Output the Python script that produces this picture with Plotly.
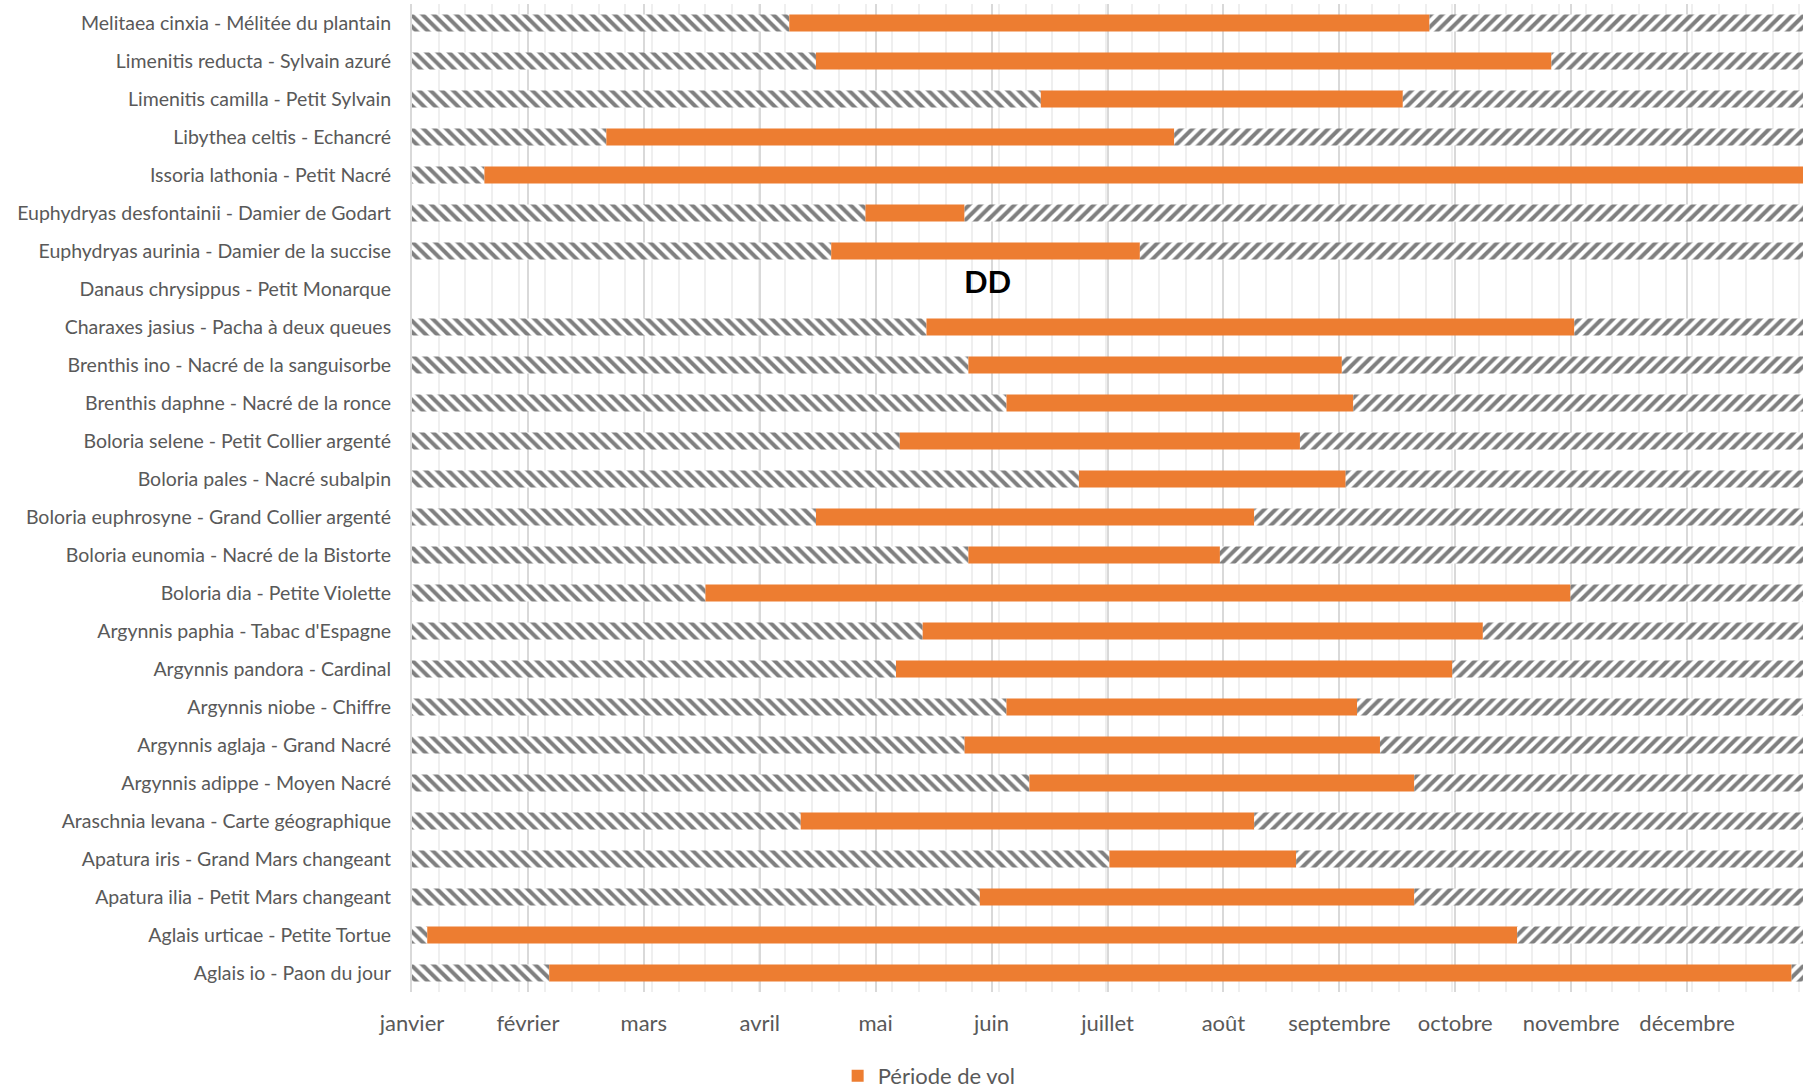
import plotly.graph_objects as go

# Species, listed bottom-to-top (alphabetical order)
species = [
    "Aglais io - Paon du jour",
    "Aglais urticae - Petite Tortue",
    "Apatura ilia - Petit Mars changeant",
    "Apatura iris - Grand Mars changeant",
    "Araschnia levana - Carte géographique",
    "Argynnis adippe - Moyen Nacré",
    "Argynnis aglaja - Grand Nacré",
    "Argynnis niobe - Chiffre",
    "Argynnis pandora - Cardinal",
    "Argynnis paphia - Tabac d'Espagne",
    "Boloria dia - Petite Violette",
    "Boloria eunomia - Nacré de la Bistorte",
    "Boloria euphrosyne - Grand Collier argenté",
    "Boloria pales - Nacré subalpin",
    "Boloria selene - Petit Collier argenté",
    "Brenthis daphne - Nacré de la ronce",
    "Brenthis ino - Nacré de la sanguisorbe",
    "Charaxes jasius - Pacha à deux queues",
    "Danaus chrysippus - Petit Monarque",
    "Euphydryas aurinia - Damier de la succise",
    "Euphydryas desfontainii - Damier de Godart",
    "Issoria lathonia - Petit Nacré",
    "Libythea celtis - Echancré",
    "Limenitis camilla - Petit Sylvain",
    "Limenitis reducta - Sylvain azuré",
    "Melitaea cinxia - Mélitée du plantain",
]

# Flight period, in days since 1 January (None = no data)
debut_vol = [36, 4, 149, 183, 102, 162, 145, 156, 127, 134, 77, 146, 106, 175,
             128, 156, 146, 135, None, 110, 119, 19, 51, 165, 106, 99]
fin_vol = [362, 290, 263, 232, 221, 263, 254, 248, 273, 281, 304, 212, 221, 245,
           233, 247, 244, 305, None, 191, 145, 365, 200, 260, 299, 267]

annee = 365
mois = ["janvier", "février", "mars", "avril", "mai", "juin", "juillet",
        "août", "septembre", "octobre", "novembre", "décembre"]
position_mois = [i * annee / 12 for i in range(12)]

espece_dd = "Danaus chrysippus - Petit Monarque"

avant = [d if d is not None else None for d in debut_vol]
duree = [(f - d) if d is not None else None for d, f in zip(debut_vol, fin_vol)]
apres = [(annee - f) if f is not None else None for f in fin_vol]

orange = "#ED7D31"
gris_texte = "#595959"
hachure = "#000000"
largeur = 0.45

fig = go.Figure()

fig.add_trace(go.Bar(
    y=species, x=avant, base=[0] * len(species), orientation="h",
    width=largeur, showlegend=False, hoverinfo="skip",
    marker=dict(color="white", line=dict(width=0),
                pattern=dict(shape="\\", fgcolor=hachure, bgcolor="white",
                             size=8, solidity=0.5)),
))
fig.add_trace(go.Bar(
    y=species, x=duree, base=debut_vol, orientation="h",
    width=largeur, name="Période de vol",
    marker=dict(color=orange, line=dict(width=0)),
))
fig.add_trace(go.Bar(
    y=species, x=apres, base=fin_vol, orientation="h",
    width=largeur, showlegend=False, hoverinfo="skip",
    marker=dict(color="white", line=dict(width=0),
                pattern=dict(shape="/", fgcolor=hachure, bgcolor="white",
                             size=8, solidity=0.5)),
))

fig.add_annotation(
    x=151, y=espece_dd, text="<b>DD</b>", showarrow=False,
    yshift=8, font=dict(family="Lato", size=31, color="black"),
)

fig.update_layout(
    width=1803, height=1088,
    margin=dict(l=412, r=0, t=4, b=96, autoexpand=False),
    paper_bgcolor="white", plot_bgcolor="white",
    barmode="overlay",
    font=dict(family="Lato", color=gris_texte),
    xaxis=dict(
        range=[0, annee], tickmode="array", tickvals=position_mois, ticktext=mois,
        showgrid=True, gridcolor="#d9d9d9", gridwidth=2, zeroline=False,
        showline=False, ticks="", ticklabelstandoff=16,
        tickfont=dict(family="Lato", size=22, color=gris_texte),
        minor=dict(tick0=0, dtick=7, showgrid=True, gridcolor="#efefef", gridwidth=1.5),
        fixedrange=True,
    ),
    yaxis=dict(
        categoryorder="array", categoryarray=species,
        showgrid=False, showline=True, linecolor="#d9d9d9", linewidth=2,
        ticks="", ticklabelstandoff=15,
        tickfont=dict(family="Lato", size=19.5, color=gris_texte),
        fixedrange=True,
    ),
    legend=dict(
        orientation="h", x=0.306, xanchor="left", y=-0.085, yanchor="middle",
        font=dict(family="Lato", size=22, color=gris_texte),
        itemwidth=30, bgcolor="rgba(0,0,0,0)",
    ),
)

fig.write_html("out.html")
